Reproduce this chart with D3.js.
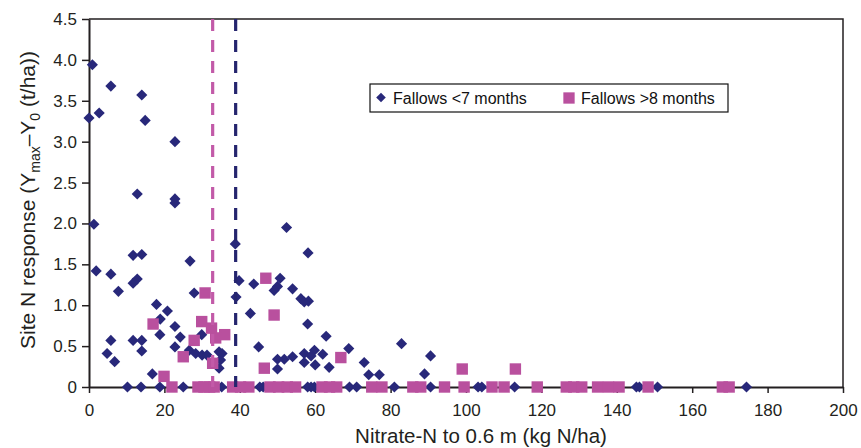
<!DOCTYPE html>
<html>
<head>
<meta charset="utf-8">
<script src="https://cdn.jsdelivr.net/npm/d3@7"></script>
<style>
  body { margin: 0; background: #fff; }
  svg { display: block; font-family: "Liberation Sans", Arial, Helvetica, sans-serif; }
</style>
</head>
<body>
<div id="chart"></div>
<script>
// fallows shorter than 7 months: [nitrate-N, response]
const shortFallows = [
  [0.0, 3.29], [0.9, 3.94], [2.7, 3.35], [5.8, 3.68], [14.0, 3.57], [14.9, 3.26], [22.8, 3.00],
  [12.8, 2.36], [22.8, 2.30], [22.8, 2.25], [1.3, 1.99], [38.8, 1.75],
  [11.7, 1.61], [14.0, 1.62], [26.8, 1.54], [1.9, 1.42], [5.8, 1.38], [12.8, 1.32], [11.7, 1.27],
  [39.8, 1.30], [43.7, 1.26], [7.8, 1.17], [27.9, 1.15], [39.0, 1.10],
  [17.9, 1.01], [20.8, 0.93], [42.8, 0.90], [18.9, 0.83], [22.8, 0.74], [18.8, 0.64], [24.2, 0.61], [29.9, 0.64],
  [5.8, 0.57], [11.7, 0.57], [14.0, 0.57], [22.8, 0.49], [26.6, 0.45], [45.0, 0.49],
  [4.8, 0.41], [14.0, 0.44], [28.3, 0.41], [30.0, 0.39], [31.3, 0.39],
  [34.5, 0.43], [35.3, 0.41], [34.9, 0.33], [34.5, 0.23], [6.8, 0.31], [16.8, 0.16],
  [52.4, 1.95], [58.1, 1.64], [50.7, 1.33], [50.0, 1.23], [49.1, 1.18], [54.0, 1.20],
  [56.2, 1.08], [58.2, 1.05], [57.1, 1.04], [58.0, 0.77], [62.9, 0.62], [68.9, 0.47], [59.8, 0.45],
  [57.1, 0.41], [58.9, 0.38], [62.0, 0.40], [54.0, 0.37], [51.8, 0.34], [50.0, 0.34], [57.1, 0.30],
  [73.0, 0.30], [60.0, 0.27], [63.7, 0.24], [50.0, 0.22], [82.9, 0.53], [74.2, 0.15], [77.0, 0.15],
  [89.0, 0.16], [90.6, 0.38],
  [10.2, 0], [13.8, 0], [18.8, 0], [25.0, 0], [35.2, 0], [45.3, 0], [46.2, 0], [58.0, 0], [58.9, 0],
  [59.8, 0], [69.1, 0], [71.0, 0], [81.0, 0], [90.6, 0], [103.2, 0], [104.2, 0], [112.9, 0],
  [145.2, 0], [146.0, 0], [150.8, 0], [174.4, 0]
];

// fallows longer than 8 months
const longFallows = [
  [46.9, 1.33], [30.8, 1.15], [49.1, 0.88], [29.9, 0.80], [17.0, 0.77], [32.5, 0.72], [36.0, 0.64],
  [33.6, 0.60], [27.9, 0.57], [25.0, 0.37], [32.8, 0.29], [19.9, 0.13], [46.5, 0.23], [66.8, 0.36],
  [99.0, 0.22], [113.1, 0.22],
  [22.0, 0], [28.9, 0], [30.5, 0], [32.0, 0], [33.2, 0], [38.1, 0], [40.2, 0], [42.4, 0],
  [48.0, 0], [50.3, 0], [52.6, 0], [54.8, 0], [61.8, 0], [63.8, 0], [65.7, 0], [75.0, 0], [77.7, 0],
  [85.9, 0], [88.0, 0], [94.3, 0], [99.5, 0], [106.9, 0], [110.1, 0], [118.9, 0], [126.6, 0],
  [128.6, 0], [130.7, 0], [134.9, 0], [137.8, 0], [140.6, 0], [148.3, 0], [168.0, 0], [169.8, 0]
];

// critical nitrate levels (dashed lines)
const thresholds = [
  { x: 32.8, series: "long" },
  { x: 38.9, series: "short" }
];

const xTicks = d3.range(0, 201, 20);
const yTicks = d3.range(0, 4.51, 0.5);
const legendLabels = ["Fallows <7 months", "Fallows >8 months"];

const navy = "#28287a";
const pink = "#b9509e";
const ink = "#231f20";

const width = 861, height = 448;
const margin = { top: 19, right: 18, bottom: 61, left: 89 };

const svg = d3.select("#chart").append("svg")
  .attr("width", width)
  .attr("height", height);

const xScale = d3.scaleLinear().domain([0, 200]).range([margin.left, width - margin.right]);
const yScale = d3.scaleLinear().domain([0, 4.5]).range([height - margin.bottom, margin.top]);

// frame (top + right)
svg.append("path")
  .attr("d", `M${xScale(0)},${yScale(4.5)}H${xScale(200)}V${yScale(0)}`)
  .attr("fill", "none")
  .attr("stroke", ink)
  .attr("stroke-width", 1.5);

const xAxis = svg.append("g")
  .attr("transform", `translate(0,${yScale(0)})`)
  .call(d3.axisBottom(xScale).tickValues(xTicks).tickSize(6).tickSizeOuter(0).tickPadding(11));

const yAxis = svg.append("g")
  .attr("transform", `translate(${xScale(0)},0)`)
  .call(d3.axisLeft(yScale).tickValues(yTicks).tickSize(7).tickSizeOuter(0).tickPadding(5)
    .tickFormat(d => d === 0 ? "0" : d.toFixed(1)));

[xAxis, yAxis].forEach(ax => {
  ax.select(".domain").attr("stroke", ink).attr("stroke-width", 2);
  ax.selectAll(".tick line").attr("stroke", ink).attr("stroke-width", 1.5);
  ax.selectAll(".tick text").attr("fill", ink).attr("font-size", 17)
    .attr("font-family", "'Liberation Sans', Arial, sans-serif");
});

// points
const diamond = d3.symbol().type(d3.symbolSquare).size(62);
const square = d3.symbol().type(d3.symbolSquare).size(130);

svg.append("g").selectAll("path")
  .data(shortFallows)
  .join("path")
  .attr("d", diamond)
  .attr("transform", d => `translate(${xScale(d[0])},${yScale(d[1])}) rotate(45)`)
  .attr("fill", navy);

svg.append("g").selectAll("path")
  .data(longFallows)
  .join("path")
  .attr("d", square)
  .attr("transform", d => `translate(${xScale(d[0])},${yScale(d[1])})`)
  .attr("fill", pink);

// threshold lines
svg.append("g").selectAll("line")
  .data(thresholds)
  .join("line")
  .attr("x1", d => xScale(d.x))
  .attr("x2", d => xScale(d.x))
  .attr("y1", yScale(4.5))
  .attr("y2", yScale(0))
  .attr("stroke", d => d.series === "long" ? "#c25aa8" : "#25256e")
  .attr("stroke-width", 3.2)
  .attr("stroke-dasharray", "12,9");

// legend
const legend = svg.append("g").attr("transform", "translate(370,84)");
legend.append("rect")
  .attr("width", 358).attr("height", 28)
  .attr("fill", "#fff").attr("stroke", "#111").attr("stroke-width", 1.2);
legend.append("path")
  .attr("d", d3.symbol().type(d3.symbolSquare).size(46))
  .attr("transform", "translate(11,13.5) rotate(45)")
  .attr("fill", navy);
legend.append("text").attr("x", 23).attr("y", 20).attr("font-size", 16).attr("fill", "#111")
  .text(legendLabels[0]);
legend.append("path")
  .attr("d", d3.symbol().type(d3.symbolSquare).size(128))
  .attr("transform", "translate(199,14)")
  .attr("fill", pink);
legend.append("text").attr("x", 211).attr("y", 20).attr("font-size", 16).attr("fill", "#111")
  .text(legendLabels[1]);

// axis titles
svg.append("text")
  .attr("x", 481).attr("y", 443)
  .attr("text-anchor", "middle")
  .attr("font-size", 20.5)
  .attr("fill", ink)
  .text("Nitrate-N to 0.6 m (kg N/ha)");

const yTitle = svg.append("text")
  .attr("transform", "translate(35,200) rotate(-90)")
  .attr("text-anchor", "middle")
  .attr("font-size", 21)
  .attr("fill", ink);
yTitle.append("tspan").text("Site N response (Y");
yTitle.append("tspan").attr("font-size", 14).attr("dy", 5).text("max");
yTitle.append("tspan").attr("dy", -5).text("–Y");
yTitle.append("tspan").attr("font-size", 14).attr("dy", 5).text("0");
yTitle.append("tspan").attr("dy", -5).text(" (t/ha))");
</script>
</body>
</html>
